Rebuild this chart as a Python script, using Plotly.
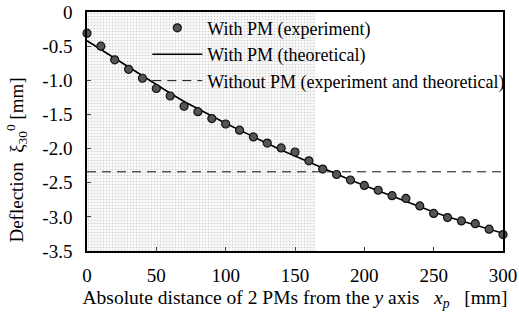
import plotly.graph_objects as go

# Data
x_exp = [0, 10, 20, 30, 40, 50, 60, 70, 80, 90, 100, 110, 120, 130, 140, 150,
         160, 170, 180, 190, 200, 210, 220, 230, 240, 250, 260, 270, 280, 290, 300]
y_exp = [-0.31, -0.50, -0.70, -0.84, -0.97, -1.12, -1.23, -1.38, -1.46, -1.56, -1.64,
         -1.73, -1.83, -1.92, -1.99, -2.05, -2.18, -2.30, -2.38, -2.46, -2.54, -2.61,
         -2.69, -2.73, -2.84, -2.95, -3.01, -3.06, -3.10, -3.18, -3.26]
x_theo = x_exp
y_theo = [-0.42, -0.55, -0.68, -0.81, -0.94, -1.07, -1.19, -1.31, -1.42, -1.53, -1.63,
          -1.73, -1.83, -1.93, -2.02, -2.11, -2.20, -2.29, -2.38, -2.46, -2.54, -2.62,
          -2.70, -2.78, -2.86, -2.93, -3.00, -3.06, -3.12, -3.18, -3.24]
x_nopm = [0, 300]
y_nopm = [-2.34, -2.34]
shade_x = [0, 165]
y_range = [-3.5, 0]
y_tickvals = [0, -0.5, -1.0, -1.5, -2.0, -2.5, -3.0, -3.5]
y_ticktext = ["0", "-0.5", "-1.0", "-1.5", "-2.0", "-2.5", "-3.0", "-3.5"]
x_tickvals = [0, 50, 100, 150, 200, 250, 300]

FONT = "Liberation Serif"
NB = "&nbsp;"

fig = go.Figure()

# stippled shaded region
fig.add_trace(go.Scatter(
    x=[shade_x[0], shade_x[1], shade_x[1], shade_x[0], shade_x[0]],
    y=[y_range[1], y_range[1], y_range[0], y_range[0], y_range[1]],
    fill="toself", mode="lines", line=dict(width=0),
    fillcolor="rgba(0,0,0,0)",
    fillpattern=dict(shape=".", fgcolor="#a0a0a0", bgcolor="#f9f9f9", size=3, solidity=0.2),
    showlegend=False, hoverinfo="skip"))

fig.add_trace(go.Scatter(
    x=x_nopm, y=y_nopm, mode="lines",
    line=dict(color="#111111", width=1, dash="9px,6px"),
    name="Without PM (experiment and theoretical)", legendrank=3))

fig.add_trace(go.Scatter(
    x=x_theo, y=y_theo, mode="lines",
    line=dict(color="black", width=1.6),
    name="With PM (theoretical)", legendrank=2))

fig.add_trace(go.Scatter(
    x=x_exp, y=y_exp, mode="markers",
    marker=dict(size=8, color="#555555", line=dict(color="#111111", width=1.2)),
    name="With PM (experiment)", legendrank=1, cliponaxis=False))

fig.update_layout(
    width=519, height=322,
    margin=dict(l=87, r=16, t=12, b=71, autoexpand=False),
    paper_bgcolor="white", plot_bgcolor="white",
    font=dict(family=FONT, size=18, color="black"),
    legend=dict(x=0.145, y=1.01, xanchor="left", yanchor="top",
                bgcolor="rgba(0,0,0,0)", borderwidth=0,
                font=dict(family=FONT, size=18), itemwidth=50,
                tracegroupgap=0),
    xaxis=dict(range=[0, 300], tickvals=x_tickvals, ticks="inside", ticklen=4,
               showgrid=False, zeroline=False, showline=True, linecolor="black",
               linewidth=1.5, mirror=True, automargin=False, ticklabelstandoff=6,
               title=dict(text="Absolute distance of 2 PMs from the <i>y</i> axis" + NB * 3
                               + "<i>x<sub>p</sub></i>" + NB * 3 + "[mm]",
                          standoff=6, font=dict(family=FONT, size=19.5)),
               tickfont=dict(family=FONT, size=19)),
    yaxis=dict(range=y_range, tickvals=y_tickvals, ticktext=y_ticktext,
               ticks="inside", ticklen=4,
               showgrid=False, zeroline=False, showline=True, linecolor="black",
               linewidth=1.5, mirror=True, automargin=False, ticklabelstandoff=9,
               title=dict(text="Deflection" + NB * 2 + "ξ<sub>30</sub><sup>0</sup> [mm]" + NB * 12,
                          standoff=14, font=dict(family=FONT, size=19)),
               tickfont=dict(family=FONT, size=19)),
)

fig.write_html("out.html", config={"displayModeBar": False},
               post_script="document.body.style.margin='0';")
